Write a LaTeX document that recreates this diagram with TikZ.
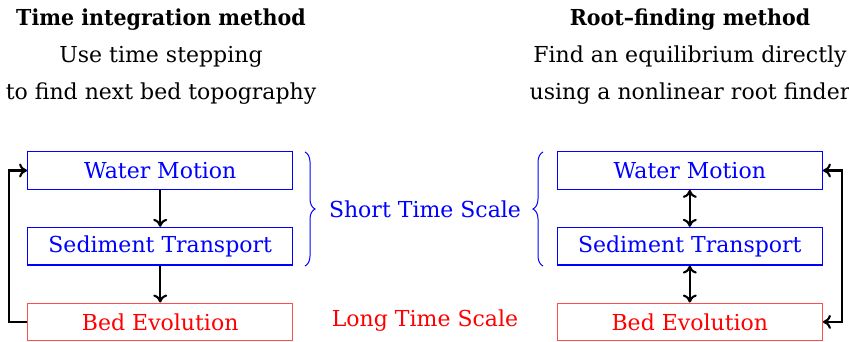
\documentclass[tikz,border=0pt]{standalone}
\usepackage{fontspec}
\setmainfont{DejaVu Serif}[BoldFeatures={FakeStretch=0.935}]
\usetikzlibrary{arrows.meta,decorations.pathreplacing}
\begin{document}
\begin{tikzpicture}[x=1pt,y=-1pt,
  every node/.style={font=\fontsize{22}{26}\selectfont, inner sep=0pt},
  blockbox/.style={draw, line width=1.2pt, minimum width=265pt, minimum height=37.5pt},
  water/.style={blockbox, draw=blue, text=blue},
  bedbox/.style={blockbox, draw=red!70, text=red},
  flow/.style={line width=2.1pt, -{To[length=8pt,width=14pt]}},
  bothflow/.style={line width=2.1pt, {To[length=8pt,width=14pt]}-{To[length=8pt,width=14pt]}},
  scalebrace/.style={draw=blue, line width=1pt, decorate, decoration={brace, amplitude=10pt}},
  head/.style={anchor=base, font=\fontsize{22}{26}\selectfont\bfseries},
  line/.style={anchor=base}
]
\useasboundingbox (0,0) rectangle (849,342);

% left column: time integration
\node[head] (lt) at (161,26) {Time integration method};
\node[line] (l1) at (161,63) {Use time stepping};
\node[line] (l2) at (161,100) {to find next bed topography};

\node[water]  (lw) at (160.2,170.5) {Water Motion};
\node[water]  (ls) at (160.2,246.2) {Sediment Transport};
\node[bedbox] (lb) at (160.2,321.9) {Bed Evolution};

\draw[flow] (lw) -- (ls);
\draw[flow] (ls) -- (lb);
\coordinate (lc1) at (8.7,321.9);
\coordinate (lc2) at (8.7,170.5);
\draw[flow] (lb.west) -- (lc1) -- (lc2) -- (lw.west);

% right column: root finding
\node[head] (rt) at (690,26) {Root–finding method};
\node[line] (r1) at (690,63) {Find an equilibrium directly};
\node[line] (r2) at (690,100) {using a nonlinear root finder};

\node[water]  (rw) at (689.8,170.5) {Water Motion};
\node[water]  (rs) at (689.8,246.2) {Sediment Transport};
\node[bedbox] (rb) at (689.8,321.9) {Bed Evolution};

\draw[bothflow] (rw) -- (rs);
\draw[bothflow] (rs) -- (rb);
\coordinate (rc1) at (841.7,170.5);
\coordinate (rc2) at (841.7,321.9);
\draw[bothflow] (rw.east) -- (rc1) -- (rc2) -- (rb.east);

% time scale labels
\coordinate (bl1) at (305,152);
\coordinate (bl2) at (305,266);
\draw[scalebrace] (bl1) -- (bl2);
\coordinate (br1) at (543,266);
\coordinate (br2) at (543,152);
\draw[scalebrace] (br1) -- (br2);
\node[text=blue] (short) at (425,209) {Short Time Scale};
\node[text=red]  (long)  at (425,321) {Long Time Scale};
\end{tikzpicture}
\end{document}
